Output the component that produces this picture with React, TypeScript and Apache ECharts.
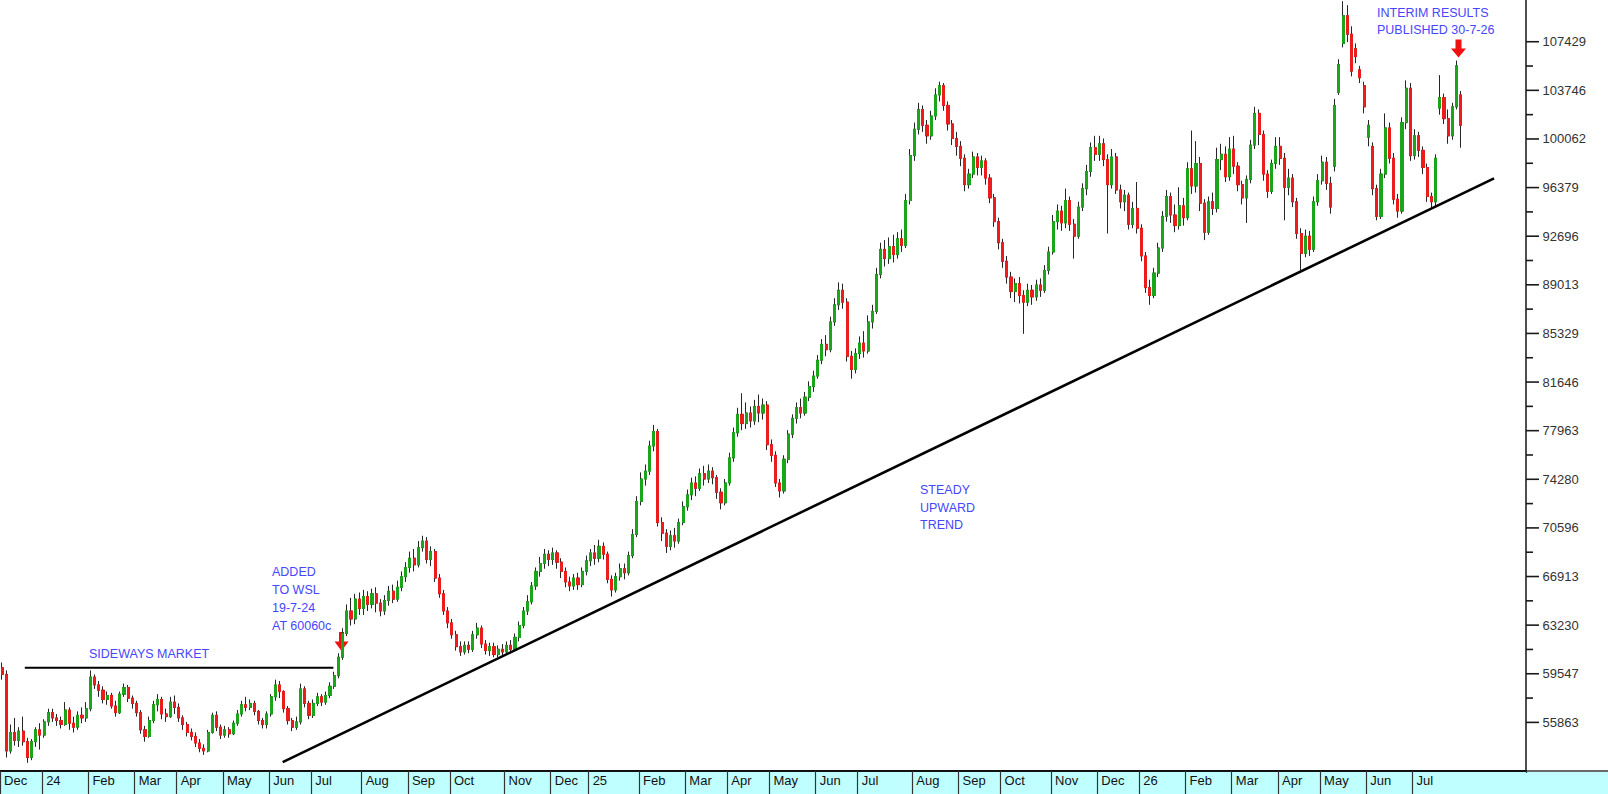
import React, { useEffect, useRef } from "react";
import * as echarts from "echarts";

// ---- Axis categories (month bands, candles per month) ----
const MONTH_LABELS = [
  "Dec", "24", "Feb", "Mar", "Apr", "May", "Jun", "Jul", "Aug", "Sep", "Oct", "Nov",
  "Dec", "25", "Feb", "Mar", "Apr", "May", "Jun", "Jul", "Aug", "Sep", "Oct", "Nov",
  "Dec", "26", "Feb", "Mar", "Apr", "May", "Jun", "Jul",
];
const MONTH_CANDLES = [
  10, 11, 11, 10, 11, 11, 10, 12, 11, 10, 13, 11,
  9, 12, 11, 10, 10, 11, 10, 13, 11, 10, 12, 11,
  10, 11, 11, 11, 10, 11, 11, 12,
];
const PAD_SLOTS = 15; // empty space right of the last candle

// ---- Y axis ----
const Y_MIN = 52180;
const Y_MAX = 110590;
const Y_TICKS = [
  55863, 59547, 63230, 66913, 70596, 74280, 77963, 81646, 85329, 89013, 92696,
  96379, 100062, 103746, 107429,
];

// ---- Candles: [open, close, low, high] ----
const OHLC_DEC23_JUL24 = [
  // Dec 23
  [60000, 59500, 59100, 60400], [59500, 53700, 53200, 59800], [53700, 55100, 53500, 55700],
  [55100, 54500, 54100, 56200], [54500, 55200, 54000, 55500], [55200, 54400, 54100, 56300],
  [54400, 53200, 52800, 54700], [53200, 54400, 53000, 54600], [54400, 55300, 54000, 55500],
  [55300, 54900, 53800, 55800],
  // Jan 24
  [54900, 55900, 54700, 56100], [55900, 56600, 55600, 56900], [56600, 56200, 55900, 56900],
  [56200, 56000, 55600, 56500], [56000, 55700, 55400, 56300], [55700, 56800, 55600, 57400],
  [56800, 55800, 55300, 57000], [55800, 55500, 55100, 56300], [55500, 56400, 55300, 56700],
  [56400, 56200, 55800, 57000], [56200, 56900, 55900, 57400],
  // Feb
  [56900, 59300, 56700, 59800], [59300, 58700, 58400, 59500], [58700, 58300, 57800, 59000],
  [58300, 57600, 57300, 58600], [57600, 57900, 57200, 58200], [57900, 57100, 56900, 58100],
  [57100, 56600, 56300, 57500], [56600, 58000, 56500, 58200], [58000, 58500, 57800, 58800],
  [58500, 57700, 57400, 58700], [57700, 57300, 56900, 57900],
  // Mar
  [57300, 56600, 56300, 57500], [56600, 55300, 55000, 56800], [55300, 54800, 54400, 55600],
  [54800, 56000, 54700, 56300], [56000, 57200, 55800, 57500], [57200, 57600, 56700, 58000],
  [57600, 56500, 56100, 57800], [56500, 56300, 55900, 56900], [56300, 57400, 56200, 57800],
  [57400, 57000, 56500, 57900],
  // Apr
  [57000, 56200, 55900, 57300], [56200, 55700, 55300, 56400], [55700, 55100, 54800, 55900],
  [55100, 54800, 54500, 55400], [54800, 54300, 54000, 55100], [54300, 53900, 53600, 54600],
  [53900, 53700, 53400, 54200], [53700, 55100, 53600, 55300], [55100, 56400, 55000, 56600],
  [56400, 55500, 55200, 56700], [55500, 54900, 54600, 55700],
  // May
  [54900, 55300, 54700, 55600], [55300, 55000, 54700, 55500], [55000, 55800, 54900, 56000],
  [55800, 56500, 55600, 56800], [56500, 57200, 56300, 57500], [57200, 57000, 56700, 57800],
  [57000, 57300, 56800, 57600], [57300, 56700, 56400, 57500], [56700, 56000, 55700, 56800],
  [56000, 55700, 55400, 56200], [55700, 56500, 55400, 56700],
  // Jun
  [56500, 57800, 56300, 58000], [57800, 58700, 57500, 59100], [58700, 58200, 57700, 59000],
  [58200, 56900, 56600, 58300], [56900, 56000, 55700, 57100], [56000, 55500, 55200, 56200],
  [55500, 55900, 55300, 56300], [55900, 58400, 55700, 58800], [58400, 57300, 57000, 58600],
  [57300, 56400, 56100, 57500],
  // Jul
  [56400, 57300, 56200, 57600], [57300, 57800, 57100, 58100], [57800, 57400, 57100, 58000],
  [57400, 57900, 57200, 58200], [57900, 58600, 57700, 58900], [58600, 59400, 58400, 59700],
  [59400, 60800, 59200, 61100], [60800, 62600, 60600, 63000], [62600, 64300, 62400, 64800],
  [64300, 63700, 63200, 65300], [63700, 65200, 63300, 65600], [65200, 64500, 64000, 65700],
];

const OHLC_AUG24_DEC24 = [
  // Aug
  [64500, 65400, 64000, 65900], [65400, 64800, 64300, 65800], [64800, 65600, 64500, 66000],
  [65600, 64900, 64200, 66100], [64900, 64300, 63900, 65200], [64300, 65100, 64000, 65500],
  [65100, 65800, 64700, 66200], [65800, 65200, 64900, 66300], [65200, 66100, 65000, 66600],
  [66100, 66900, 65800, 67300], [66900, 67600, 66500, 68000],
  // Sep
  [67600, 68300, 67200, 68800], [68300, 67800, 67300, 69000], [67800, 69100, 67600, 69600],
  [69100, 69600, 68800, 70000], [69600, 68200, 67900, 69900], [68200, 68800, 67700, 69200],
  [68800, 66800, 66500, 69000], [66800, 65600, 65300, 67100], [65600, 64300, 64000, 65900],
  [64300, 63400, 63000, 64600],
  // Oct
  [63400, 62500, 62200, 63700], [62500, 61600, 61300, 62800], [61600, 61200, 60900, 62000],
  [61200, 61700, 61000, 62000], [61700, 61400, 61100, 62000], [61400, 62500, 61200, 62800],
  [62500, 63000, 62200, 63400], [63000, 61800, 61500, 63200], [61800, 61300, 61000, 62100],
  [61300, 61600, 60900, 61900], [61600, 61000, 60800, 61900], [61000, 61400, 60800, 61700],
  [61400, 61200, 60900, 61800],
  // Nov
  [61200, 61700, 61000, 62000], [61700, 61400, 61200, 62100], [61400, 62300, 61300, 62600],
  [62300, 63200, 62000, 63500], [63200, 64300, 63000, 64600], [64300, 65000, 64000, 65500],
  [65000, 66200, 64800, 66500], [66200, 67300, 65900, 67600], [67300, 67900, 66900, 68400],
  [67900, 68600, 67500, 69000], [68600, 68200, 67700, 68900],
  // Dec
  [68200, 68700, 67800, 69100], [68700, 68000, 67500, 68900], [68000, 67300, 66800, 68300],
  [67300, 66500, 66100, 67600], [66500, 66200, 65800, 66900], [66200, 66800, 65900, 67100],
  [66800, 66300, 65900, 67200], [66300, 67300, 66100, 67600], [67300, 68100, 67000, 68500],
];

const OHLC_JAN25_JUN25 = [
  // Jan 25
  [68100, 68700, 67700, 69000], [68700, 68300, 67800, 69300], [68300, 69200, 68000, 69700],
  [69200, 68600, 68200, 69500], [68600, 66700, 66400, 68800], [66700, 65900, 65400, 67000],
  [65900, 66900, 65700, 67200], [66900, 67500, 66600, 67900], [67500, 67200, 66700, 67900],
  [67200, 68500, 67000, 68800], [68500, 70100, 68300, 70500], [70100, 72600, 69900, 73000],
  // Feb
  [72600, 74300, 72300, 74800], [74300, 74900, 73800, 75400], [74900, 76800, 74600, 77200],
  [76800, 77900, 76400, 78400], [77900, 71000, 70700, 78100], [71000, 70200, 69600, 71400],
  [70200, 69200, 68700, 70500], [69200, 70000, 68900, 70400], [70000, 69600, 69100, 70600],
  [69600, 71000, 69400, 71300], [71000, 72200, 70800, 72600],
  // Mar
  [72200, 73100, 71900, 73500], [73100, 74000, 72700, 74400], [74000, 73600, 73000, 74500],
  [73600, 74700, 73400, 75100], [74700, 74300, 73800, 75300], [74300, 74900, 74000, 75400],
  [74900, 74400, 73900, 75200], [74400, 73300, 72800, 74600], [73300, 72500, 72000, 73600],
  [72500, 74000, 72300, 74300],
  // Apr
  [74000, 75900, 73800, 76300], [75900, 77800, 75600, 78200], [77800, 79200, 77500, 79700],
  [79200, 78500, 78000, 80800], [78500, 79300, 78100, 80100], [79300, 78700, 78200, 79800],
  [78700, 79800, 78400, 80300], [79800, 79300, 78600, 80700], [79300, 79900, 78800, 80400],
  [79900, 76900, 76500, 80200],
  // May
  [76900, 76100, 75600, 77300], [76100, 74000, 73700, 76400], [74000, 73400, 72900, 74300],
  [73400, 75800, 73200, 76100], [75800, 77700, 75500, 78000], [77700, 78900, 77400, 79200],
  [78900, 79700, 78500, 80100], [79700, 79300, 78900, 80400], [79300, 80500, 79100, 80900],
  [80500, 81300, 80200, 81700], [81300, 82100, 80900, 82500],
  // Jun
  [82100, 83300, 81900, 83700], [83300, 84500, 83000, 84900], [84500, 84100, 83600, 85200],
  [84100, 86200, 83900, 86600], [86200, 87500, 85900, 88000], [87500, 88600, 87100, 89200],
  [88600, 87700, 87200, 89100], [87700, 83600, 83200, 88000], [83600, 82600, 81900, 84000],
  [82600, 83800, 82300, 84200],
];

const OHLC_JUL25_DEC25 = [
  // Jul
  [83800, 84600, 83400, 85100], [84600, 84000, 83500, 85500], [84000, 86200, 83800, 86700],
  [86200, 87000, 85700, 87500], [87000, 89800, 86800, 90300], [89800, 91700, 89500, 92200],
  [91700, 91000, 90400, 92400], [91000, 91900, 90600, 92600], [91900, 91300, 90700, 92800],
  [91300, 92500, 91000, 93000], [92500, 92000, 91500, 93200], [92000, 95400, 91800, 95900],
  [95400, 98800, 95100, 99300],
  // Aug
  [98800, 100800, 98400, 101300], [100800, 102300, 100400, 102800], [102300, 101100, 100600, 102600],
  [101100, 100300, 99700, 101500], [100300, 101800, 100000, 102200], [101800, 103400, 101500, 103900],
  [103400, 104100, 102900, 104400], [104100, 102600, 102200, 104300], [102600, 101200, 100700, 102900],
  [101200, 100100, 99600, 101500], [100100, 99500, 98800, 100600],
  // Sep
  [99500, 98600, 98000, 99900], [98600, 96600, 96100, 98900], [96600, 97400, 96300, 97800],
  [97400, 98700, 97100, 99100], [98700, 97900, 97300, 99000], [97900, 98400, 97300, 98800],
  [98400, 97100, 96600, 98600], [97100, 95600, 95200, 97400], [95600, 93800, 93400, 95900],
  [93800, 92200, 91700, 94100],
  // Oct
  [92200, 90800, 90300, 92500], [90800, 89600, 89100, 91200], [89600, 88500, 88000, 90000],
  [88500, 89100, 87700, 89500], [89100, 88200, 87600, 89600], [88200, 87700, 85300, 88600],
  [87700, 88600, 87400, 89100], [88600, 88100, 87500, 89000], [88100, 89000, 87800, 89400],
  [89000, 88600, 88100, 89500], [88600, 90100, 88400, 90500], [90100, 91500, 89800, 91900],
  // Nov
  [91500, 93800, 91300, 94300], [93800, 94600, 93200, 95100], [94600, 93700, 93100, 95000],
  [93700, 95400, 93300, 96300], [95400, 93600, 93100, 95700], [93600, 92700, 91000, 94000],
  [92700, 94900, 92500, 95300], [94900, 96300, 94600, 96700], [96300, 97600, 95800, 98100],
  [97600, 99400, 97200, 99800], [99400, 98900, 98400, 100300],
  // Dec
  [98900, 99700, 98400, 100300], [99700, 98500, 98000, 100100], [98500, 96600, 92900, 98900],
  [96600, 98700, 96300, 99300], [98700, 96200, 95900, 99000], [96200, 95300, 94800, 96600],
  [95300, 95800, 94600, 96200], [95800, 93600, 93200, 96000], [93600, 94800, 93300, 95300],
  [94800, 93300, 92900, 96800],
];

const OHLC_JAN26_JUL26 = [
  // Jan 26
  [93300, 91200, 90800, 93600], [91200, 88800, 88400, 91500], [88800, 88200, 87500, 89400],
  [88200, 89900, 88000, 90300], [89900, 91800, 89600, 92200], [91800, 94200, 91500, 94600],
  [94200, 95700, 93800, 96200], [95700, 94300, 93700, 96000], [94300, 93500, 93000, 95100],
  [93500, 95000, 93200, 96400], [95000, 94100, 93500, 95600],
  // Feb
  [94100, 97800, 93900, 98300], [97800, 96500, 95900, 100700], [96500, 98200, 96000, 99900],
  [98200, 95200, 94600, 98700], [95200, 93000, 92400, 95500], [93000, 95300, 92800, 95700],
  [95300, 94800, 94300, 96000], [94800, 98500, 94500, 99400], [98500, 98900, 97700, 99700],
  [98900, 97200, 96800, 99500], [97200, 99300, 96900, 100200],
  // Mar
  [99300, 98000, 97400, 100300], [98000, 96600, 96100, 98300], [96600, 95600, 95100, 96900],
  [95600, 97000, 93700, 97300], [97000, 99600, 96700, 100000], [99600, 102000, 99300, 102500],
  [102000, 100400, 99600, 102300], [100400, 97400, 96900, 100700], [97400, 96100, 95600, 97700],
  [96100, 98200, 95900, 98500], [98200, 99500, 97800, 100200],
  // Apr
  [99500, 98600, 98100, 100200], [98600, 96400, 93900, 99000], [96400, 97100, 95800, 97800],
  [97100, 95300, 94900, 97400], [95300, 92900, 92500, 95600], [92900, 91400, 90100, 93300],
  [91400, 92700, 91100, 93200], [92700, 91700, 91200, 93100], [91700, 95300, 91500, 95700],
  [95300, 96900, 95000, 97400],
  // May
  [96900, 98300, 96600, 98800], [98300, 96700, 96200, 98700], [96700, 94900, 94400, 97200],
  [98000, 102600, 97600, 103100], [103600, 105700, 103400, 106100], [107300, 109400, 107000, 110500],
  [109400, 108000, 107400, 110200], [108000, 105200, 104800, 108600], [106900, 106300, 105800, 107300],
  [105300, 104700, 104300, 105600], [104100, 102500, 102000, 104400],
  // Jun
  [100200, 101100, 99500, 101500], [99500, 96300, 95800, 99800], [96300, 94200, 93900, 96600],
  [94200, 97400, 94000, 97800], [97400, 100900, 97100, 102000], [100900, 98600, 98200, 101300],
  [98600, 95500, 95100, 99000], [95500, 94600, 94100, 95900], [94600, 101300, 94400, 101700],
  [101300, 103900, 100800, 104500], [103900, 98800, 98400, 104300],
  // Jul
  [98800, 100300, 98500, 100800], [100300, 99200, 98700, 100600], [99200, 97900, 97400, 99500],
  [97900, 95700, 95300, 98200], [95700, 95300, 94800, 96000], [95300, 98600, 95000, 98900],
  [102400, 103200, 101900, 104900], [103200, 101600, 101200, 103500], [101600, 100300, 99700, 102300],
  [100300, 102500, 100000, 102800], [102500, 105600, 102300, 106000], [103400, 101100, 99400, 103700],
];

// ---- Drawn lines: [slot position, price] ----
const TREND_LINE = [[67.25, 52850], [355.4, 97080]];
const SIDEWAYS_LINE = [[5.9, 60000], [79.3, 60000]];

const GREEN = "#1aa51a";
const RED = "#ec1c1c";
const WICK = "#262626";
const BLUE = "#4646ff";
const BAND = "#c0ffff";
const FONT = '"Liberation Sans", Arial, Helvetica, sans-serif';

export default function App() {
  const ref = useRef<HTMLDivElement | null>(null);

  useEffect(() => {
    document.body.style.margin = "0";
    if (!ref.current) return;
    const chart = echarts.init(ref.current, undefined, { renderer: "svg" });

    const categories: string[] = [];
    const labelAt: Record<string, string> = {};
    const monthStart = new Set<number>();
    MONTH_LABELS.forEach((lab, m) => {
      for (let k = 0; k < MONTH_CANDLES[m]; k++) {
        const key = `m${m}d${k}`;
        if (k === 0) {
          labelAt[key] = lab;
          monthStart.add(categories.length);
        }
        categories.push(key);
      }
    });
    for (let k = 0; k < PAD_SLOTS; k++) categories.push(`pad${k}`);
    const slotCount = categories.length;

    const candles = [
      ...OHLC_DEC23_JUL24,
      ...OHLC_AUG24_DEC24,
      ...OHLC_JAN25_JUN25,
      ...OHLC_JUL25_DEC25,
      ...OHLC_JAN26_JUL26,
    ];
    const bodies = candles.map(([o, c]) => [o, c, Math.min(o, c), Math.max(o, c)]);
    const minorTicks = Y_TICKS.slice(1).map((v, i) => (v + Y_TICKS[i]) / 2);
    // price-axis tick marks: [x at right edge, price, tick length]
    const tickMarks = [
      ...Y_TICKS.map((v) => [slotCount, v, 13]),
      ...minorTicks.map((v) => [slotCount, v, 7]),
    ];

    const txt = (text: string, x: number, y: number) => ({
      type: "text",
      x,
      y,
      silent: true,
      style: {
        text,
        fill: BLUE,
        fontSize: 12.5,
        fontFamily: FONT,
        align: "left",
        verticalAlign: "middle",
      },
    });
    const arrow = (cx: number, top: number, tip: number, shaftW: number, headW: number) => {
      const mid = top + (tip - top) * 0.5;
      return {
        type: "polygon",
        silent: true,
        shape: {
          points: [
            [cx - shaftW / 2, top],
            [cx + shaftW / 2, top],
            [cx + shaftW / 2, mid],
            [cx + headW / 2, mid],
            [cx, tip],
            [cx - headW / 2, mid],
            [cx - shaftW / 2, mid],
          ],
        },
        style: { fill: "#f01010" },
      };
    };

    chart.setOption({
      animation: false,
      backgroundColor: "transparent",
      grid: { left: 0, top: 0, width: 1526, height: 771, containLabel: false },
      xAxis: [
        {
          type: "category",
          data: categories,
          boundaryGap: true,
          position: "bottom",
          axisLine: { show: true, onZero: false, lineStyle: { color: "#111", width: 2 } },
          axisTick: {
            show: true,
            interval: (i: number) => monthStart.has(i),
            length: 23,
            lineStyle: { color: "#333", width: 1.2 },
          },
          axisLabel: {
            show: true,
            interval: (i: number) => monthStart.has(i),
            formatter: (v: string) => labelAt[v] || "",
            align: "left",
            padding: [0, 0, 0, 2],
            margin: 3,
            fontSize: 13,
            color: "#111",
            fontFamily: FONT,
          },
          splitLine: { show: false },
        },
        { type: "value", min: 0, max: slotCount, show: false },
      ],
      yAxis: [
        {
          type: "value",
          position: "right",
          min: Y_MIN,
          max: Y_MAX,
          scale: true,
          axisLine: { show: true, onZero: false, lineStyle: { color: "#222", width: 1.6 } },
          axisTick: { show: false },
          axisLabel: {
            show: true,
            customValues: Y_TICKS,
            formatter: (v: number) => String(Math.round(v)),
            margin: 16.5,
            fontSize: 13,
            color: "#333",
            fontFamily: FONT,
          },
          splitLine: { show: false },
        },
      ],
      series: [
        {
          type: "candlestick",
          name: "range",
          data: candles,
          barWidth: 2.6,
          silent: true,
          z: 2,
          itemStyle: {
            color: WICK,
            color0: WICK,
            borderColor: WICK,
            borderColor0: WICK,
            borderWidth: 1,
          },
        },
        {
          type: "candlestick",
          name: "body",
          data: bodies,
          barWidth: 2.6,
          silent: true,
          z: 3,
          itemStyle: {
            color: GREEN,
            color0: RED,
            borderColor: GREEN,
            borderColor0: RED,
            borderWidth: 1,
          },
        },
        {
          type: "line",
          name: "trend",
          xAxisIndex: 1,
          yAxisIndex: 0,
          data: TREND_LINE,
          symbol: "none",
          silent: true,
          z: 5,
          lineStyle: { color: "#000", width: 2.6 },
        },
        {
          type: "line",
          name: "sideways",
          xAxisIndex: 1,
          yAxisIndex: 0,
          data: SIDEWAYS_LINE,
          symbol: "none",
          silent: true,
          z: 5,
          lineStyle: { color: "#000", width: 2 },
        },
        {
          type: "custom",
          name: "priceTicks",
          xAxisIndex: 1,
          yAxisIndex: 0,
          silent: true,
          clip: false,
          z: 6,
          data: tickMarks,
          encode: { x: 0, y: 1 },
          renderItem: (_params: any, api: any) => {
            const p = api.coord([api.value(0), api.value(1)]);
            const len = api.value(2);
            return {
              type: "line",
              shape: { x1: p[0], y1: p[1], x2: p[0] + len, y2: p[1] },
              style: { stroke: "#1a1a1a", lineWidth: 1.6 },
            };
          },
        },
      ],
      graphic: [
        txt("SIDEWAYS MARKET", 89, 654),
        txt("ADDED", 272, 572.4),
        txt("TO WSL", 272, 590.2),
        txt("19-7-24", 272, 608),
        txt("AT 60060c", 272, 625.8),
        txt("STEADY", 920, 490.3),
        txt("UPWARD", 920, 507.7),
        txt("TREND", 920, 525.2),
        txt("INTERIM RESULTS", 1377, 12.5),
        txt("PUBLISHED 30-7-26", 1377, 30),
        arrow(341.5, 632, 651, 5, 14),
        arrow(1458.5, 39.5, 57.5, 6, 15),
        {
          type: "rect",
          z: 100,
          silent: true,
          shape: { x: 1521, y: 773, width: 10, height: 21 },
          style: { fill: BAND },
        },
      ],
    });

    return () => chart.dispose();
  }, []);

  return (
    <div
      ref={ref}
      style={{
        width: 1608,
        height: 794,
        background:
          "linear-gradient(to bottom, #ffffff 0px, #ffffff 770px, #6a6a6a 770px, #6a6a6a 772px, #c0ffff 772px, #c0ffff 794px)",
      }}
    />
  );
}
